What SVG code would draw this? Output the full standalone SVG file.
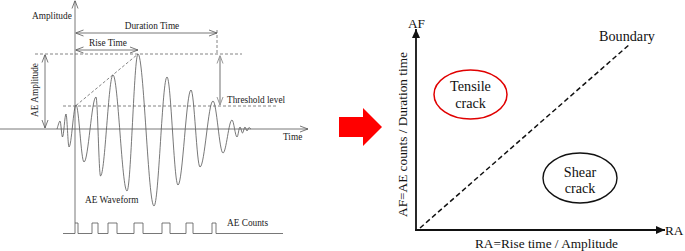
<svg xmlns="http://www.w3.org/2000/svg" width="685" height="251" viewBox="0 0 685 251">
<defs>
<style>
.lt{font-family:"Liberation Serif","Times New Roman",serif;font-size:9.3px;fill:#222}
.rt{font-family:"Liberation Serif","Times New Roman",serif;font-size:13.3px;fill:#111}
.bt{font-family:"Liberation Serif","Times New Roman",serif;font-size:14.2px;fill:#111}
.ln{fill:none;stroke:#555;stroke-width:0.8}
.dash{fill:none;stroke:#666;stroke-width:0.8;stroke-dasharray:3 2}
.ax{fill:none;stroke:#111;stroke-width:1.8}
</style>
<marker id="oa" viewBox="0 0 8 8" refX="8" refY="4" markerWidth="8" markerHeight="8" markerUnits="userSpaceOnUse" orient="auto-start-reverse">
<path d="M0,1 L8,4 L0,7" fill="none" stroke="#555" stroke-width="0.8"/>
</marker>
<marker id="ga" viewBox="0 0 8 8" refX="8" refY="4" markerWidth="8" markerHeight="8" markerUnits="userSpaceOnUse" orient="auto-start-reverse">
<path d="M0,1 L8,4 L0,7" fill="none" stroke="#999" stroke-width="1"/>
</marker>
<marker id="fa" viewBox="0 0 9 8" refX="9" refY="4" markerWidth="9" markerHeight="8" markerUnits="userSpaceOnUse" orient="auto">
<path d="M0,0 L9,4 L0,8 Z" fill="#111"/>
</marker>
</defs>
<rect width="685" height="251" fill="#fff"/>

<g id="waveform-panel">
<g id="connectors-left">
<line class="ln" x1="75" y1="223" x2="75" y2="0.5" marker-end="url(#oa)"/>
<line class="ln" x1="0" y1="129" x2="308" y2="129" marker-end="url(#oa)"/>
<line class="ln" x1="75.5" y1="33" x2="217" y2="33" marker-start="url(#oa)" marker-end="url(#oa)"/>
<line class="ln" x1="75.5" y1="50" x2="138" y2="50" marker-start="url(#oa)" marker-end="url(#oa)"/>
<line class="ln" x1="45" y1="54.5" x2="45" y2="128" marker-start="url(#oa)" marker-end="url(#oa)"/>
<line class="dash" x1="35" y1="54" x2="242" y2="54"/>
<line class="dash" x1="63" y1="106" x2="278" y2="106"/>
<line class="dash" x1="217" y1="30" x2="217" y2="54"/>
<line class="dash" x1="76" y1="105.5" x2="138" y2="54"/>
<line x1="220" y1="55.5" x2="220" y2="105" fill="none" stroke="#999" stroke-width="1.4" marker-start="url(#ga)" marker-end="url(#ga)"/>
</g>
<path id="ae-waveform" class="ln" d="M57,129 C58,126 59.2,121 60,121 C60.9,121 61.6,137 62.5,137 C63.76,137 64.74,114 66,114 C67.08,114 67.92,147 69,147 C71.52,147 73.48,105 76,105 C78.88,105 81.12,162 84,162 C88.32,162 91.68,97 96,97 C97.62,97 98.88,176 100.5,176 C105,176 108.5,75 113,75 C118.04,75 121.96,191 127,191 C130.96,191 134.04,54 138,54 C143.76,54 148.24,206 154,206 C158.68,206 162.32,77 167,77 C170.96,77 174.04,185 178,185 C182.68,185 186.32,90 191,90 C194.24,90 196.76,167 200,167 C204.68,167 208.32,101 213,101 C216.6,101 219.4,153 223,153 C226.24,153 228.76,120 232,120 C233.8,120 235.2,137 237,137 C238.08,137 238.92,127 240,127 C240.9,127 241.6,133 242.5,133 C243.4,133 244.1,127 245,127 C245.72,127 246.28,131 247,131 C247.72,131 248.28,127.5 249,127.5 C249.7,127.5 250.3,129 251,129"/>
<path id="ae-counts" class="ln" d="M63,233.5 H75 V223 H78 V233.5 H92 V223 H98 V233.5 H108 V223 H117 V233.5 H134 V223 H143 V233.5 H162 V223 H170 V233.5 H186 V223 H193 V233.5 H212 V223 H216 V233.5 H283"/>
<text class="lt" x="32" y="19">Amplitude</text>
<text class="lt" x="152" y="29" text-anchor="middle">Duration Time</text>
<text class="lt" x="108" y="46" text-anchor="middle">Rise Time</text>
<text class="lt" x="227" y="103">Threshold  level</text>
<text class="lt" transform="translate(37.5,90) rotate(-90)" text-anchor="middle">AE Amplitude</text>
<text class="lt" x="283" y="140">Time</text>
<text class="lt" x="85" y="203">AE Waveform</text>
<text class="lt" x="227" y="226">AE Counts</text>
</g>

<g id="red-arrow">
<polygon points="339,117 363,117 363,108 382,127 363,146 363,137 339,137" fill="#ff0000"/>
</g>

<g id="af-ra-chart">
<g id="connectors">
<line class="ax" x1="416" y1="231" x2="416" y2="29" marker-end="url(#fa)"/>
<line class="ax" x1="415.1" y1="230" x2="665" y2="230" marker-end="url(#fa)"/>
<line x1="420" y1="228" x2="630" y2="44" fill="none" stroke="#111" stroke-width="1.5" stroke-dasharray="5 3"/>
</g>
<text class="rt" x="416.5" y="27.5" text-anchor="middle">AF</text>
<text class="rt" x="665" y="235">RA</text>
<text class="rt" x="546.5" y="248" text-anchor="middle">RA=Rise time / Amplitude</text>
<text class="rt" transform="translate(406.5,134.5) rotate(-90)" text-anchor="middle">AF=AE counts / Duration time</text>
<text class="bt" x="599" y="41">Boundary</text>
<g id="tensile-crack">
<ellipse cx="470.5" cy="94.5" rx="36.5" ry="24.5" fill="none" stroke="#e00000" stroke-width="1.5"/>
<text class="bt" x="470.5" y="91" text-anchor="middle">Tensile</text>
<text class="bt" x="470.5" y="108" text-anchor="middle">crack</text>
</g>
<g id="shear-crack">
<ellipse cx="580" cy="178" rx="37" ry="25" fill="none" stroke="#111" stroke-width="1.4"/>
<text class="bt" x="580" y="177" text-anchor="middle">Shear</text>
<text class="bt" x="580" y="193" text-anchor="middle">crack</text>
</g>
</g>
</svg>
